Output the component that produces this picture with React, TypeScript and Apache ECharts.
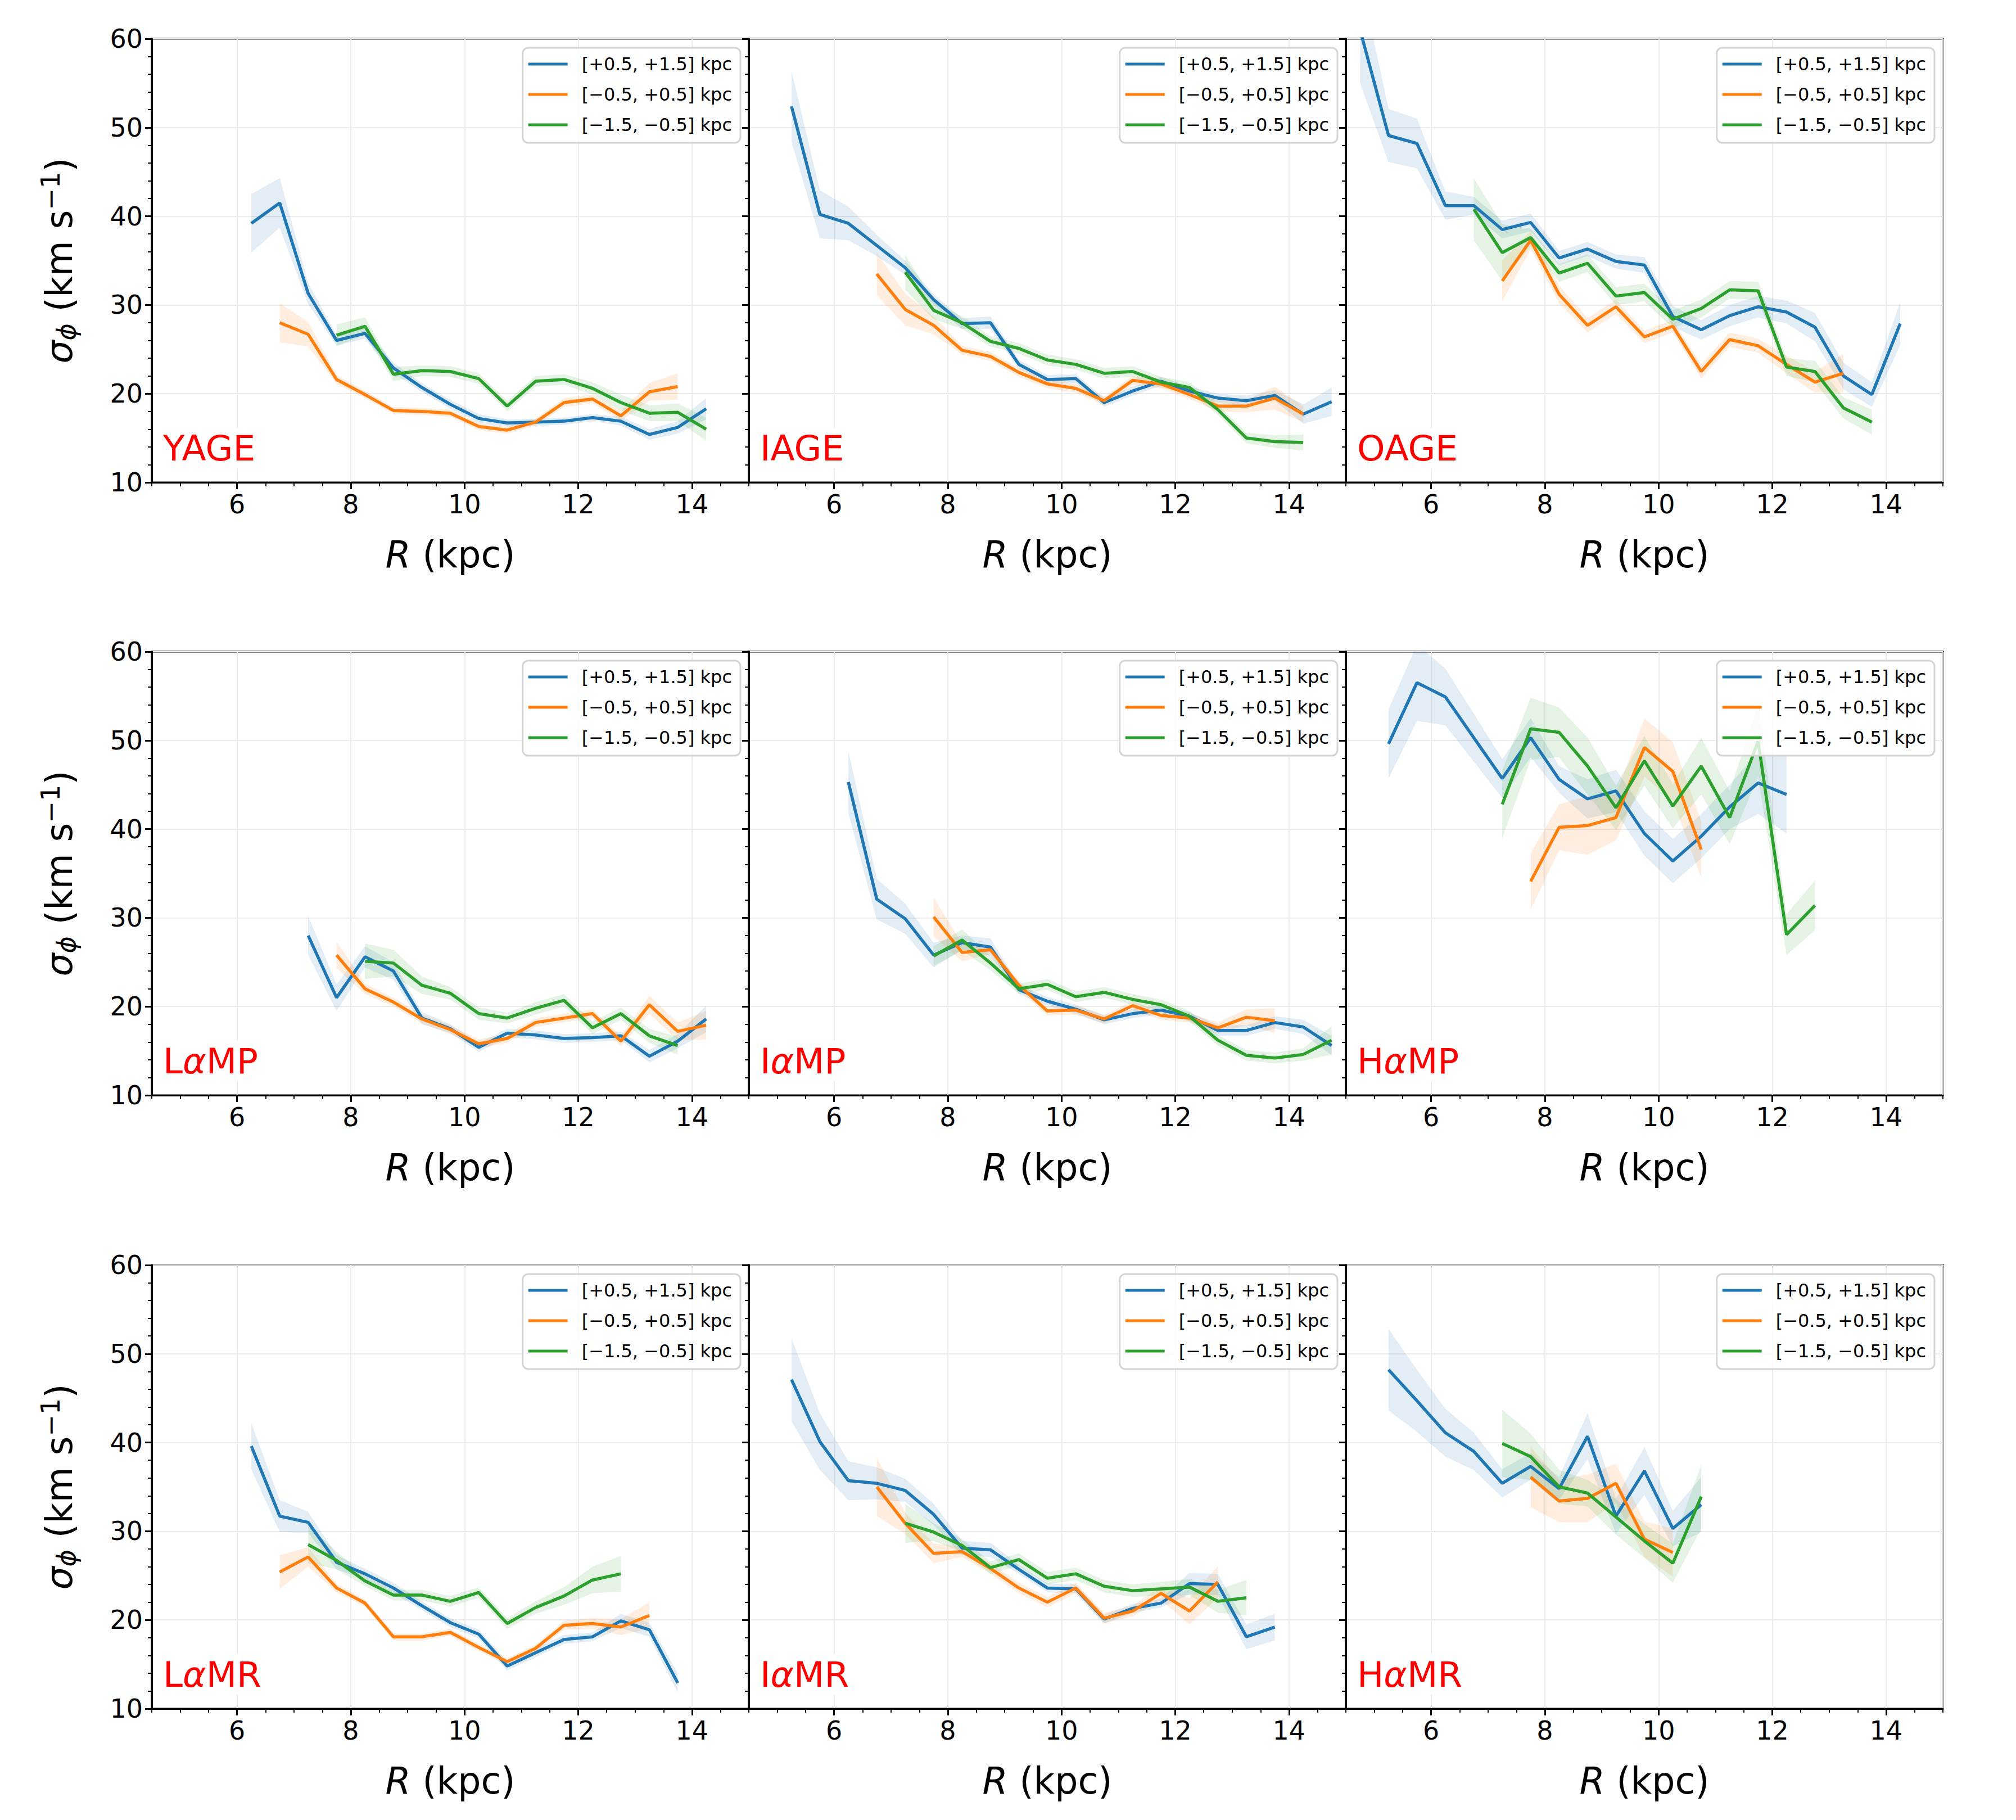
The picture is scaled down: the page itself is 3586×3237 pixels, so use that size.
import React, { useEffect, useRef } from 'react';
import * as echarts from 'echarts';

// ---------------- data ----------------
const Z_BINS = ['[+0.5, +1.5] kpc', '[\u22120.5, +0.5] kpc', '[\u22121.5, \u22120.5] kpc'];
const COLORS = ['#1f77b4', '#ff7f0e', '#2ca02c'];
const PANEL_LABELS = ['YAGE', 'IAGE', 'OAGE', 'L{g|α}MP', 'I{g|α}MP', 'H{g|α}MP', 'L{g|α}MR', 'I{g|α}MR', 'H{g|α}MR'];
const X_MIN = 4.5, X_MAX = 15, X_MINOR = 0.5;
const Y_MIN = 10, Y_MAX = 60, Y_STEP = 10;

// each row: [R (kpc), sigma_phi (km/s), half-width of band]
const yageUp = [[6.25,39.2,3.3],[6.75,41.5,2.8],[7.25,31.3,1.2],[7.75,26.0,0.6],[8.25,26.8,0.6],[8.75,22.9,0.6],[9.25,20.7,0.5],[9.75,18.8,0.5],[10.25,17.2,0.5],[10.75,16.7,0.4],[11.25,16.8,0.4],[11.75,16.9,0.4],[12.25,17.3,0.4],[12.75,16.9,0.5],[13.25,15.4,0.6],[13.75,16.2,0.7],[14.25,18.3,1.2]];
const yageMid = [[6.75,28.0,2.2],[7.25,26.7,1.4],[7.75,21.6,0.5],[8.25,19.9,0.4],[8.75,18.1,0.4],[9.25,18.0,0.4],[9.75,17.8,0.4],[10.25,16.3,0.4],[10.75,15.9,0.4],[11.25,16.8,0.4],[11.75,19.0,0.5],[12.25,19.4,0.5],[12.75,17.5,0.6],[13.25,20.2,1.0],[13.75,20.8,1.5]];
const yageDown = [[7.75,26.6,1.2],[8.25,27.6,1.0],[8.75,22.2,0.8],[9.25,22.6,0.6],[9.75,22.5,0.6],[10.25,21.7,0.6],[10.75,18.6,0.6],[11.25,21.4,0.6],[11.75,21.6,0.6],[12.25,20.6,0.7],[12.75,19.0,0.9],[13.25,17.8,0.9],[13.75,17.9,1.0],[14.25,16.0,1.3]];

const iageUp = [[5.25,52.4,4.0],[5.75,40.2,2.7],[6.25,39.2,1.9],[6.75,36.7,1.2],[7.25,34.2,0.8],[7.75,30.6,0.6],[8.25,27.9,0.6],[8.75,28.0,0.7],[9.25,23.3,0.5],[9.75,21.6,0.5],[10.25,21.7,0.5],[10.75,19.0,0.5],[11.25,20.3,0.5],[11.75,21.4,0.5],[12.25,20.3,0.5],[12.75,19.5,0.5],[13.25,19.2,0.6],[13.75,19.8,0.6],[14.25,17.7,1.1],[14.75,19.1,1.6]];
const iageMid = [[6.75,33.5,2.4],[7.25,29.5,1.8],[7.75,27.7,1.0],[8.25,24.9,0.5],[8.75,24.2,0.5],[9.25,22.4,0.5],[9.75,21.1,0.5],[10.25,20.6,0.5],[10.75,19.2,0.5],[11.25,21.5,0.5],[11.75,21.1,0.5],[12.25,19.9,0.5],[12.75,18.6,0.6],[13.25,18.6,0.7],[13.75,19.5,1.3],[14.25,17.7,0.9]];
const iageDown = [[7.25,33.7,2.0],[7.75,29.4,1.0],[8.25,28.0,0.7],[8.75,25.9,0.6],[9.25,25.1,0.6],[9.75,23.8,0.6],[10.25,23.3,0.6],[10.75,22.3,0.6],[11.25,22.5,0.6],[11.75,21.3,0.6],[12.25,20.7,0.6],[12.75,18.2,0.6],[13.25,15.0,0.6],[13.75,14.6,0.7],[14.25,14.5,0.9]];

const oageUp = [[4.75,61.0,6.0],[5.25,49.1,3.0],[5.75,48.2,2.8],[6.25,41.2,1.6],[6.75,41.2,1.0],[7.25,38.5,1.0],[7.75,39.3,1.0],[8.25,35.3,0.8],[8.75,36.3,0.8],[9.25,34.9,0.8],[9.75,34.5,0.9],[10.25,28.7,1.2],[10.75,27.2,1.1],[11.25,28.8,1.2],[11.75,29.8,1.2],[12.25,29.2,1.3],[12.75,27.5,1.6],[13.25,22.0,1.5],[13.75,19.9,1.4],[14.25,27.9,2.4]];
const oageMid = [[7.25,32.7,2.3],[7.75,37.3,1.0],[8.25,31.2,1.0],[8.75,27.7,0.8],[9.25,29.8,0.8],[9.75,26.4,0.7],[10.25,27.6,0.7],[10.75,22.5,0.8],[11.25,26.1,0.8],[11.75,25.4,0.8],[12.25,23.3,1.0],[12.75,21.3,1.2],[13.25,22.3,2.2]];
const oageDown = [[6.75,40.8,3.5],[7.25,35.9,3.2],[7.75,37.6,1.0],[8.25,33.6,1.0],[8.75,34.7,1.0],[9.25,31.0,1.0],[9.75,31.4,1.0],[10.25,28.4,1.0],[10.75,29.6,1.0],[11.25,31.7,1.0],[11.75,31.6,1.0],[12.25,23.0,1.0],[12.75,22.5,1.2],[13.25,18.4,1.2],[13.75,16.8,1.4]];

const lampUp = [[7.25,28.0,2.2],[7.75,21.0,1.5],[8.25,25.6,1.2],[8.75,24.0,1.0],[9.25,18.7,0.7],[9.75,17.5,0.5],[10.25,15.4,0.5],[10.75,17.0,0.5],[11.25,16.8,0.5],[11.75,16.4,0.5],[12.25,16.5,0.5],[12.75,16.7,0.5],[13.25,14.4,0.7],[13.75,16.1,0.8],[14.25,18.6,1.5]];
const lampMid = [[7.75,25.8,1.5],[8.25,22.0,0.6],[8.75,20.5,0.5],[9.25,18.6,0.5],[9.75,17.4,0.5],[10.25,15.8,0.5],[10.75,16.4,0.5],[11.25,18.2,0.5],[11.75,18.7,0.5],[12.25,19.2,0.5],[12.75,16.1,0.6],[13.25,20.2,1.0],[13.75,17.2,1.0],[14.25,17.9,1.6]];
const lampDown = [[8.25,25.1,2.0],[8.75,24.9,1.5],[9.25,22.4,1.0],[9.75,21.5,0.7],[10.25,19.2,0.7],[10.75,18.7,0.6],[11.25,19.8,0.7],[11.75,20.7,0.7],[12.25,17.6,0.7],[12.75,19.2,0.7],[13.25,16.7,0.8],[13.75,15.6,1.0]];

const iampUp = [[6.25,45.3,3.5],[6.75,32.1,2.3],[7.25,29.9,1.7],[7.75,25.8,1.4],[8.25,27.2,0.8],[8.75,26.7,1.0],[9.25,21.9,0.5],[9.75,20.6,0.5],[10.25,19.7,0.5],[10.75,18.5,0.5],[11.25,19.2,0.5],[11.75,19.6,0.5],[12.25,18.9,0.5],[12.75,17.3,0.6],[13.25,17.3,0.6],[13.75,18.2,0.7],[14.25,17.7,0.8],[14.75,15.6,1.1]];
const iampMid = [[7.75,30.1,2.2],[8.25,26.1,1.0],[8.75,26.4,0.5],[9.25,22.4,0.5],[9.75,19.5,0.5],[10.25,19.6,0.5],[10.75,18.6,0.5],[11.25,20.1,0.5],[11.75,19.0,0.5],[12.25,18.7,0.5],[12.75,17.6,0.6],[13.25,18.8,0.9],[13.75,18.4,1.4]];
const iampDown = [[7.75,25.7,1.1],[8.25,27.5,1.2],[8.75,24.9,0.8],[9.25,22.0,0.6],[9.75,22.5,0.6],[10.25,21.1,0.6],[10.75,21.6,0.6],[11.25,20.8,0.6],[11.75,20.2,0.6],[12.25,18.9,0.6],[12.75,16.2,0.6],[13.25,14.5,0.6],[13.75,14.2,0.6],[14.25,14.6,0.7],[14.75,16.2,1.6]];

const hampUp = [[5.25,49.6,3.9],[5.75,56.5,4.3],[6.25,54.9,3.2],[6.75,50.3,2.7],[7.25,45.7,2.2],[7.75,50.3,2.2],[8.25,45.6,1.5],[8.75,43.4,2.2],[9.25,44.3,2.4],[9.75,39.5,2.5],[10.25,36.4,2.5],[10.75,39.2,2.5],[11.25,42.5,2.5],[11.75,45.2,3.5],[12.25,43.9,4.4]];
const hampMid = [[7.75,34.1,3.2],[8.25,40.2,2.6],[8.75,40.4,3.3],[9.25,41.3,2.6],[9.75,49.2,3.3],[10.25,46.5,3.3],[10.75,37.7,3.2]];
const hampDown = [[7.25,42.8,3.8],[7.75,51.3,3.5],[8.25,50.9,2.8],[8.75,47.1,3.2],[9.25,42.4,2.5],[9.75,47.7,2.8],[10.25,42.6,2.5],[10.75,47.1,3.2],[11.25,41.3,3.0],[11.75,49.9,4.0],[12.25,28.1,2.3],[12.75,31.4,2.8]];

const lamrUp = [[6.25,39.6,2.6],[6.75,31.7,1.8],[7.25,31.0,1.2],[7.75,26.5,0.8],[8.25,25.2,0.6],[8.75,23.6,0.6],[9.25,21.6,0.5],[9.75,19.7,0.5],[10.25,18.4,0.5],[10.75,14.8,0.5],[11.25,16.3,0.5],[11.75,17.8,0.5],[12.25,18.1,0.5],[12.75,19.9,0.8],[13.25,18.9,0.8],[13.75,12.9,1.1]];
const lamrMid = [[6.75,25.4,1.9],[7.25,27.1,1.1],[7.75,23.6,0.5],[8.25,21.9,0.4],[8.75,18.1,0.4],[9.25,18.1,0.4],[9.75,18.6,0.4],[10.25,16.9,0.4],[10.75,15.3,0.4],[11.25,16.8,0.4],[11.75,19.4,0.5],[12.25,19.6,0.6],[12.75,19.2,0.9],[13.25,20.5,1.5]];
const lamrDown = [[7.25,28.5,2.1],[7.75,26.7,1.0],[8.25,24.4,0.6],[8.75,22.8,0.6],[9.25,22.8,0.6],[9.75,22.1,0.6],[10.25,23.1,0.6],[10.75,19.6,0.6],[11.25,21.4,0.7],[11.75,22.7,1.0],[12.25,24.5,1.5],[12.75,25.2,2.0]];

const iamrUp = [[5.25,47.1,4.7],[5.75,40.1,3.2],[6.25,35.7,2.2],[6.75,35.4,1.8],[7.25,34.6,1.3],[7.75,31.9,1.2],[8.25,28.1,0.8],[8.75,27.9,0.8],[9.25,25.7,0.5],[9.75,23.6,0.5],[10.25,23.5,0.5],[10.75,20.1,0.5],[11.25,21.3,0.5],[11.75,21.9,0.5],[12.25,24.1,1.2],[12.75,24.0,1.2],[13.25,18.1,1.4],[13.75,19.2,1.5]];
const iamrMid = [[6.75,35.0,3.3],[7.25,30.9,1.2],[7.75,27.5,1.1],[8.25,27.7,0.6],[8.75,25.8,0.6],[9.25,23.6,0.6],[9.75,22.0,0.6],[10.25,23.6,0.6],[10.75,20.2,0.6],[11.25,21.0,0.6],[11.75,23.0,0.8],[12.25,21.0,1.5],[12.75,24.3,1.8]];
const iamrDown = [[7.25,30.9,2.2],[7.75,29.9,1.0],[8.25,28.4,0.7],[8.75,25.9,0.7],[9.25,26.8,0.7],[9.75,24.7,0.7],[10.25,25.2,0.7],[10.75,23.8,0.7],[11.25,23.3,0.7],[11.75,23.5,0.8],[12.25,23.7,0.9],[12.75,22.1,1.3],[13.25,22.5,2.0]];

const hamrUp = [[5.25,48.2,4.6],[5.75,44.7,3.5],[6.25,41.1,2.7],[6.75,39.0,2.1],[7.25,35.4,1.6],[7.75,37.3,1.5],[8.25,34.8,1.3],[8.75,40.7,2.6],[9.25,31.7,2.0],[9.75,36.8,2.7],[10.25,30.3,2.0],[10.75,33.0,3.1]];
const hamrMid = [[7.75,36.1,3.4],[8.25,33.4,2.4],[8.75,33.7,2.7],[9.25,35.4,2.2],[9.75,29.1,2.0],[10.25,27.6,2.7]];
const hamrDown = [[7.25,39.9,3.8],[7.75,38.4,2.6],[8.25,35.0,1.9],[8.75,34.3,1.5],[9.25,31.6,2.0],[9.75,28.9,1.9],[10.25,26.4,2.2],[10.75,33.9,3.6]];

const PANEL_DATA = [
  [yageUp, yageMid, yageDown],
  [iageUp, iageMid, iageDown],
  [oageUp, oageMid, oageDown],
  [lampUp, lampMid, lampDown],
  [iampUp, iampMid, iampDown],
  [hampUp, hampMid, hampDown],
  [lamrUp, lamrMid, lamrDown],
  [iamrUp, iamrMid, iamrDown],
  [hamrUp, hamrMid, hamrDown],
];

// ---------------- layout ----------------
const W = 3586, H = 3237;
const FONT = 'DejaVu Sans';
const COL_LEFT = [270, 1332, 2394];
const PANEL_W = 1062;
const ROW_TOP = [69, 1159, 2250];
const PANEL_H = 789;
const LINE_W = 5.5;

function buildOption() {
  const grid: any[] = [];
  const xAxis: any[] = [];
  const yAxis: any[] = [];
  const series: any[] = [];
  const legend: any[] = [];
  const title: any[] = [];

  PANEL_DATA.forEach((sets, p) => {
    const col = p % 3;
    const row = Math.floor(p / 3);
    const left = COL_LEFT[col];
    const top = ROW_TOP[row];
    grid.push({ left, top, width: PANEL_W, height: PANEL_H, show: true, borderColor: '#000', borderWidth: 3, containLabel: false });

    xAxis.push({
      gridIndex: p, type: 'value', min: X_MIN, max: X_MAX, splitNumber: 5, position: 'bottom',
      axisLine: { show: true, lineStyle: { color: '#000', width: 3 } },
      axisTick: { show: true, length: 12, lineStyle: { color: '#000', width: 3 } },
      axisLabel: { show: true, fontSize: 46, color: '#000', fontFamily: FONT, margin: 16, showMinLabel: false, showMaxLabel: false },
      splitLine: { show: true, lineStyle: { color: '#ebebeb', width: 2 } },
      name: '{i|R} (kpc)', nameLocation: 'middle', nameGap: 96,
      nameTextStyle: { fontSize: 65, color: '#000', fontFamily: FONT, rich: { i: { fontSize: 65, fontStyle: 'italic', fontFamily: FONT, color: '#000' } } },
    });
    xAxis.push({
      gridIndex: p, type: 'value', min: X_MIN, max: X_MAX, interval: X_MINOR, position: 'bottom',
      axisLine: { show: false },
      axisTick: { show: true, length: 7, lineStyle: { color: '#000', width: 2 } },
      axisLabel: { show: false },
      splitLine: { show: false },
    });
    yAxis.push({
      gridIndex: p, type: 'value', min: Y_MIN, max: Y_MAX, interval: Y_STEP, position: 'left',
      axisLine: { show: true, lineStyle: { color: '#000', width: 3 } },
      axisTick: { show: true, length: 12, lineStyle: { color: '#000', width: 3 } },
      minorTick: { show: true, splitNumber: 5, length: 7, lineStyle: { color: '#000', width: 2 } },
      axisLabel: { show: col === 0, fontSize: 46, color: '#000', fontFamily: FONT, margin: 16 },
      splitLine: { show: true, lineStyle: { color: '#ebebeb', width: 2 } },
      name: col === 0 ? '{i|σ}{s|ϕ} (km s{p|\u22121})' : '',
      nameLocation: 'middle', nameRotate: 90, nameGap: 127,
      nameTextStyle: {
        fontSize: 65, color: '#000', fontFamily: FONT,
        rich: {
          i: { fontSize: 65, fontStyle: 'italic', fontFamily: FONT, color: '#000' },
          s: { fontSize: 46, fontStyle: 'italic', fontFamily: FONT, color: '#000', padding: [26, 0, 0, 0] },
          p: { fontSize: 46, fontFamily: FONT, color: '#000', padding: [0, 0, 30, 0] },
        },
      },
    });

    sets.forEach((d, k) => {
      const color = COLORS[k];
      series.push({
        type: 'custom', xAxisIndex: 2 * p, yAxisIndex: p, silent: true, clip: true, z: 1,
        data: [[d[0][0], d[0][1]]],
        renderItem: (params: any, api: any) => {
          const upper = d.map((r) => api.coord([r[0], r[1] + r[2]]));
          const lower = d.slice().reverse().map((r) => api.coord([r[0], r[1] - r[2]]));
          return {
            type: 'polygon',
            shape: { points: upper.concat(lower) },
            style: { fill: echarts.color.modifyAlpha(color, 0.13), stroke: 'none' },
          };
        },
      });
    });
    sets.forEach((d, k) => {
      const color = COLORS[k];
      series.push({
        type: 'line', name: Z_BINS[k], xAxisIndex: 2 * p, yAxisIndex: p, z: 3,
        data: d.map((r) => [r[0], r[1]]),
        symbol: 'none', showSymbol: false, clip: true,
        lineStyle: { color, width: LINE_W }, itemStyle: { color },
      });
    });

    legend.push({
      data: Z_BINS, orient: 'vertical', selectedMode: false,
      right: W - (left + PANEL_W - 15), top: top + 16,
      icon: 'rect', itemWidth: 70, itemHeight: 5, itemGap: 22,
      padding: [13, 15, 16, 10],
      backgroundColor: 'rgba(255,255,255,0.8)', borderColor: '#d4d4d4', borderWidth: 3, borderRadius: 10,
      textStyle: { fontSize: 32, lineHeight: 32, color: '#000', fontFamily: FONT, padding: [0, 0, 0, 20] },
    });

    title.push({
      text: PANEL_LABELS[p],
      left: left + 16, top: top + PANEL_H - 97,
      padding: [0, 4, 0, 4],
      backgroundColor: '#fff',
      textStyle: {
        fontSize: 63, color: '#ff0000', fontFamily: FONT, fontWeight: 'normal', lineHeight: 72,
        rich: { g: { fontSize: 63, fontStyle: 'italic', color: '#ff0000', fontFamily: FONT, lineHeight: 72 } },
      },
    });
  });

  return {
    animation: false,
    backgroundColor: '#fff',
    textStyle: { fontFamily: FONT },
    grid, xAxis, yAxis, series, legend, title,
  };
}

export default function App() {
  const ref = useRef<HTMLDivElement>(null);
  useEffect(() => {
    document.body.style.margin = '0';
    if (!ref.current) return;
    const chart = echarts.init(ref.current, undefined, { renderer: 'svg', width: W, height: H });
    chart.setOption(buildOption() as any);
    return () => chart.dispose();
  }, []);
  return <div ref={ref} style={{ width: W, height: H }} />;
}
